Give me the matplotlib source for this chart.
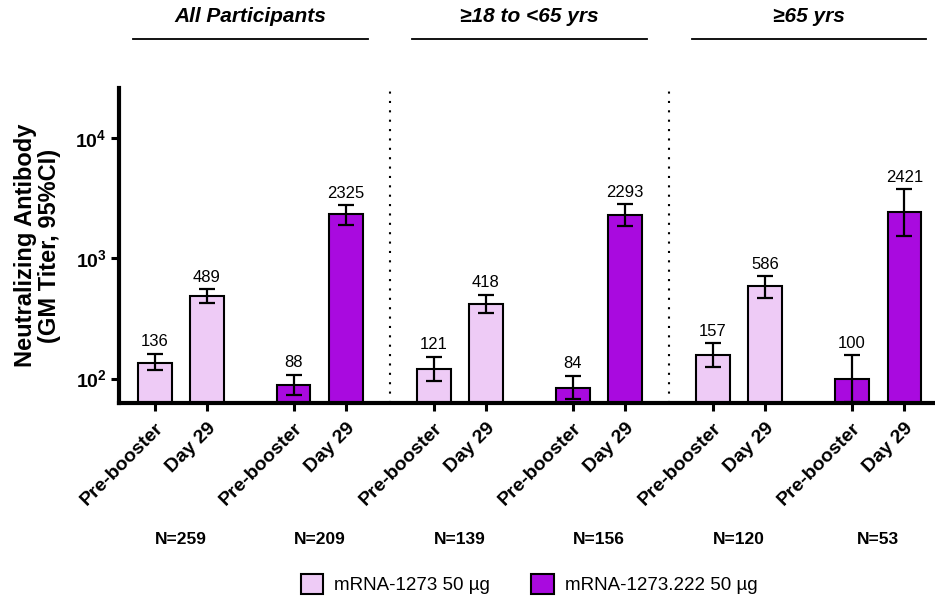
import numpy as np
import matplotlib
matplotlib.use("Agg")
import matplotlib.pyplot as plt
import matplotlib.transforms as mtransforms
from matplotlib.ticker import FixedLocator, FuncFormatter, NullLocator
from matplotlib.patches import Patch

plt.rcParams['font.family'] = ['Liberation Sans', 'DejaVu Sans']
plt.rcParams['mathtext.fontset'] = 'custom'
plt.rcParams['mathtext.rm'] = 'Liberation Sans'
plt.rcParams['mathtext.bf'] = 'Liberation Sans:bold'

# Data
groups = ["All Participants", "\u226518 to <65 yrs", "\u226565 yrs"]
timepoints = ["Pre-booster", "Day 29", "Pre-booster", "Day 29"]
vaccines = ["mRNA-1273 50 \u00b5g", "mRNA-1273.222 50 \u00b5g"]

gmt = [[136, 489, 88, 2325],
       [121, 418, 84, 2293],
       [157, 586, 100, 2421]]
ci_low = [[117, 424, 73, 1910],
          [96, 350, 68, 1848],
          [124, 473, 64, 1535]]
ci_high = [[161, 555, 108, 2780],
           [151, 501, 105, 2818],
           [197, 712, 156, 3758]]
n_counts = [[259, 209], [139, 156], [120, 53]]

colors = ["#EECBF6", "#A90ADF"]

# Layout
offsets = np.array([0, 1, 2.67, 3.68])
group_step = 5.365
bar_w = 0.646

fig = plt.figure(figsize=(9.35, 6.0), dpi=100)
ax = fig.add_axes([0.1273, 0.3283, 0.8727, 0.5245])

xpos_all = []
labels_all = []
for g in range(len(groups)):
    xs = offsets + g * group_step
    vals = np.array(gmt[g])
    lo = vals - np.array(ci_low[g])
    hi = np.array(ci_high[g]) - vals
    cols = [colors[0], colors[0], colors[1], colors[1]]
    ax.bar(xs, vals, width=bar_w, color=cols, edgecolor="black", linewidth=1.5, zorder=2)
    ax.errorbar(xs, vals, yerr=[lo, hi], fmt="none", ecolor="black", elinewidth=1.6,
                capsize=6, capthick=1.6, zorder=3)
    for x, v, top in zip(xs, vals, ci_high[g]):
        ax.annotate(str(v), (x, top), xytext=(0, 5.5), textcoords="offset points",
                    ha="center", va="baseline", fontsize=12)
    xpos_all.extend(xs)
    labels_all.extend(timepoints)

ax.set_yscale("log")
ax.set_ylim(62.6, 26100)
ax.set_xlim(-0.687, 15.0)

ax.yaxis.set_major_locator(FixedLocator([1e2, 1e3, 1e4]))
ax.yaxis.set_minor_locator(NullLocator())
ax.yaxis.set_major_formatter(FuncFormatter(lambda v, p: r"$\mathbf{10^{%d}}$" % round(np.log10(v))))
ax.tick_params(axis="y", labelsize=14, width=2.2, length=6, pad=3)

ax.set_xticks(xpos_all)
ax.set_xticklabels(labels_all, rotation=45, ha="right", rotation_mode="anchor",
                   fontsize=14, fontweight="bold")
ax.tick_params(axis="x", width=2.2, length=6, pad=6)

for side in ["top", "right"]:
    ax.spines[side].set_visible(False)
for side in ["left", "bottom"]:
    ax.spines[side].set_linewidth(3)

# dotted separators between age groups
for g in range(1, len(groups)):
    xsep = ((offsets[-1] + (g - 1) * group_step) + (offsets[0] + g * group_step)) / 2
    ax.axvline(xsep, color="black", linewidth=1.5, linestyle=(0, (1, 3.5)), zorder=1)

ax.set_ylabel("Neutralizing Antibody\n(GM Titer, 95%CI)", fontsize=17,
              fontweight="bold", labelpad=10, linespacing=1.05)

# group titles, underlines, and N labels
trans = mtransforms.blended_transform_factory(ax.transData, fig.transFigure)
for g, name in enumerate(groups):
    xs = offsets + g * group_step
    xc = (xs[0] + xs[-1]) / 2
    ax.text(xc, 0.972, name, transform=trans, ha="center", va="center",
            fontsize=15, fontweight="bold", fontstyle="italic")
    ax.plot([xc - 2.25, xc + 2.25], [0.935, 0.935], transform=trans, color="black",
            linewidth=1.3, clip_on=False)
    for k in range(2):
        xm = (xs[2 * k] + xs[2 * k + 1]) / 2
        ax.text(xm, 0.100, "N=%d" % n_counts[g][k], transform=trans, ha="center",
                va="center", fontsize=12.5, fontweight="bold")

handles = [Patch(facecolor=colors[i], edgecolor="black", linewidth=1.5, label=vaccines[i])
           for i in range(2)]
fig.legend(handles=handles, loc="center", bbox_to_anchor=(0.566, 0.026), ncol=2,
           frameon=False, fontsize=13.5, handlelength=1.2, handleheight=1.2,
           columnspacing=2.2, handletextpad=0.6)

fig.savefig("out.png", dpi=100)
